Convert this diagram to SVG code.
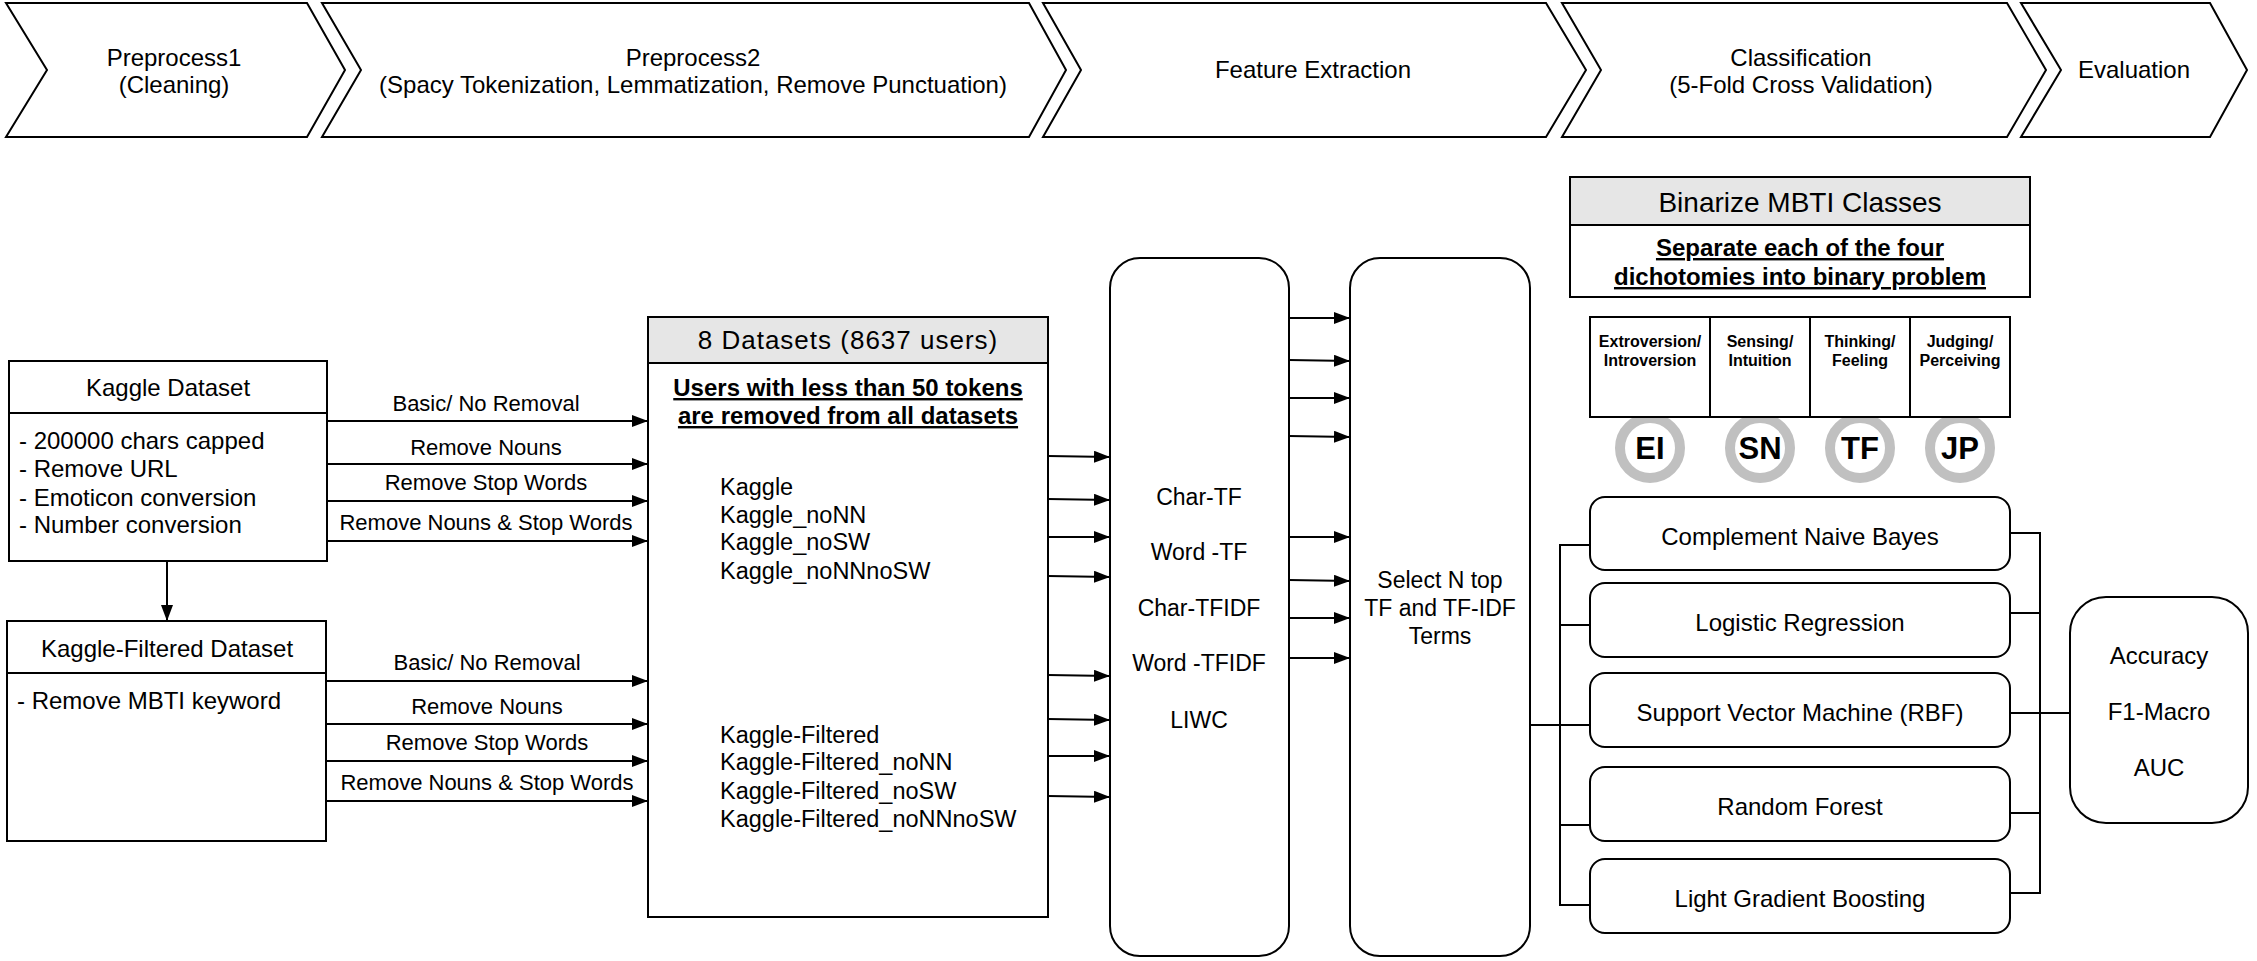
<svg xmlns="http://www.w3.org/2000/svg" width="2257" height="961" viewBox="0 0 2257 961">
<defs>
<style>
text{font-family:"Liberation Sans",Arial,Helvetica,sans-serif;fill:#000}
.c{text-anchor:middle}
.t24{font-size:24px}
.t22{font-size:22px}
.t23{font-size:23px}
.lst{font-size:23.5px}
.b24{font-size:24px;font-weight:bold;text-decoration:underline}
.sm{font-size:16px;font-weight:bold}
.big{font-size:31px;font-weight:bold}
.box{fill:#fff;stroke:#000;stroke-width:2}
.hdr{fill:#e6e6e6;stroke:#000;stroke-width:2}
.ln{fill:none;stroke:#000;stroke-width:2}
.ring{fill:#fff;stroke:#c0c0c0;stroke-width:10}
</style>
<marker id="ah" markerUnits="userSpaceOnUse" markerWidth="16" markerHeight="12" refX="16" refY="6" orient="auto">
<path d="M0,0 L16,6 L0,12 z" fill="#000"/>
</marker>
</defs>
<rect width="2257" height="961" fill="#fff"/>

<g id="stage-preprocess1">
<polygon class="box" points="6,3 307,3 345,70 307,137 6,137 47,70"/>
<text class="c t24" x="174" y="66">Preprocess1</text>
<text class="c t24" x="174" y="93">(Cleaning)</text>
</g>
<g id="stage-preprocess2">
<polygon class="box" points="322,3 1029,3 1066,70 1029,137 322,137 361,70"/>
<text class="c t24" x="693" y="66">Preprocess2</text>
<text class="c t24" x="693" y="93">(Spacy Tokenization, Lemmatization, Remove Punctuation)</text>
</g>
<g id="stage-feature">
<polygon class="box" points="1043,3 1546,3 1586,70 1546,137 1043,137 1081,70"/>
<text class="c t24" x="1313" y="78">Feature Extraction</text>
</g>
<g id="stage-classification">
<polygon class="box" points="1562,3 2007,3 2046,70 2007,137 1562,137 1601,70"/>
<text class="c t24" x="1801" y="66">Classification</text>
<text class="c t24" x="1801" y="93">(5-Fold Cross Validation)</text>
</g>
<g id="stage-evaluation">
<polygon class="box" points="2021,3 2210,3 2247,70 2210,137 2021,137 2061,70"/>
<text class="c t24" x="2134" y="78">Evaluation</text>
</g>

<g id="kaggle-dataset">
<rect class="box" x="9" y="361" width="318" height="200"/>
<line class="ln" x1="9" y1="413" x2="327" y2="413"/>
<text class="c t24" x="168" y="396">Kaggle Dataset</text>
<text class="t24" x="19" y="449">- 200000 chars capped</text>
<text class="t24" x="19" y="477">- Remove URL</text>
<text class="t24" x="19" y="506">- Emoticon conversion</text>
<text class="t24" x="19" y="533">- Number conversion</text>
</g>

<g id="kaggle-filtered">
<rect class="box" x="7" y="621" width="319" height="220"/>
<line class="ln" x1="7" y1="673" x2="326" y2="673"/>
<text class="c t24" x="167" y="657">Kaggle-Filtered Dataset</text>
<text class="t24" x="17" y="709">- Remove MBTI keyword</text>
</g>

<g id="datasets">
<rect class="box" x="648" y="317" width="400" height="600"/>
<rect class="hdr" x="648" y="317" width="400" height="46"/>
<text class="c" x="848" y="349" style="font-size:26px;letter-spacing:1px">8 Datasets (8637 users)</text>
<text class="c b24" x="848" y="396">Users with less than 50 tokens</text>
<text class="c b24" x="848" y="424">are removed from all datasets</text>
<text class="lst" x="720" y="495">Kaggle</text>
<text class="lst" x="720" y="523">Kaggle_noNN</text>
<text class="lst" x="720" y="550">Kaggle_noSW</text>
<text class="lst" x="720" y="579">Kaggle_noNNnoSW</text>
<text class="lst" x="720" y="743">Kaggle-Filtered</text>
<text class="lst" x="720" y="770">Kaggle-Filtered_noNN</text>
<text class="lst" x="720" y="799">Kaggle-Filtered_noSW</text>
<text class="lst" x="720" y="827">Kaggle-Filtered_noNNnoSW</text>
</g>

<g id="features">
<rect class="box" x="1110" y="258" width="179" height="698" rx="30"/>
<text class="c t23" x="1199" y="505">Char-TF</text>
<text class="c t23" x="1199" y="560">Word -TF</text>
<text class="c t23" x="1199" y="616">Char-TFIDF</text>
<text class="c t23" x="1199" y="671">Word -TFIDF</text>
<text class="c t23" x="1199" y="728">LIWC</text>
</g>

<g id="select">
<rect class="box" x="1350" y="258" width="180" height="698" rx="30"/>
<text class="c t23" x="1440" y="588">Select N top</text>
<text class="c t23" x="1440" y="616">TF and TF-IDF</text>
<text class="c t23" x="1440" y="644">Terms</text>
</g>

<g id="binarize">
<rect class="box" x="1570" y="177" width="460" height="120"/>
<rect class="hdr" x="1570" y="177" width="460" height="48"/>
<text class="c" x="1800" y="212" style="font-size:28px">Binarize MBTI Classes</text>
<text class="c b24" x="1800" y="256">Separate each of the four</text>
<text class="c b24" x="1800" y="285">dichotomies into binary problem</text>
</g>

<g id="dichotomy-circles">
<circle class="ring" cx="1650" cy="448" r="30"/>
<circle class="ring" cx="1760" cy="448" r="30"/>
<circle class="ring" cx="1860" cy="448" r="30"/>
<circle class="ring" cx="1960" cy="448" r="30"/>
<text class="c big" x="1650" y="459">EI</text>
<text class="c big" x="1760" y="459">SN</text>
<text class="c big" x="1860" y="459">TF</text>
<text class="c big" x="1960" y="459">JP</text>
</g>

<g id="dichotomy-table">
<rect class="box" x="1590" y="317" width="420" height="100"/>
<line class="ln" x1="1710" y1="317" x2="1710" y2="417"/>
<line class="ln" x1="1810" y1="317" x2="1810" y2="417"/>
<line class="ln" x1="1910" y1="317" x2="1910" y2="417"/>
<text class="c sm" x="1650" y="347">Extroversion/</text>
<text class="c sm" x="1650" y="366">Introversion</text>
<text class="c sm" x="1760" y="347">Sensing/</text>
<text class="c sm" x="1760" y="366">Intuition</text>
<text class="c sm" x="1860" y="347">Thinking/</text>
<text class="c sm" x="1860" y="366">Feeling</text>
<text class="c sm" x="1960" y="347">Judging/</text>
<text class="c sm" x="1960" y="366">Perceiving</text>
</g>

<g id="clf-cnb">
<rect class="box" x="1590" y="497" width="420" height="73" rx="15"/>
<text class="c t24" x="1800" y="545">Complement Naive Bayes</text>
</g>
<g id="clf-lr">
<rect class="box" x="1590" y="583" width="420" height="74" rx="15"/>
<text class="c t24" x="1800" y="631">Logistic Regression</text>
</g>
<g id="clf-svm">
<rect class="box" x="1590" y="673" width="420" height="74" rx="15"/>
<text class="c t24" x="1800" y="721">Support Vector Machine (RBF)</text>
</g>
<g id="clf-rf">
<rect class="box" x="1590" y="767" width="420" height="74" rx="15"/>
<text class="c t24" x="1800" y="815">Random Forest</text>
</g>
<g id="clf-lgb">
<rect class="box" x="1590" y="859" width="420" height="74" rx="15"/>
<text class="c t24" x="1800" y="907">Light Gradient Boosting</text>
</g>

<g id="evaluation">
<rect class="box" x="2070" y="597" width="178" height="226" rx="36"/>
<text class="c t24" x="2159" y="664">Accuracy</text>
<text class="c t24" x="2159" y="720">F1-Macro</text>
<text class="c t24" x="2159" y="776">AUC</text>
</g>

<g id="connectors">
<line class="ln" x1="167" y1="561" x2="167" y2="621" marker-end="url(#ah)"/>

<line class="ln" x1="327" y1="421" x2="648" y2="421" marker-end="url(#ah)"/>
<line class="ln" x1="327" y1="464" x2="648" y2="464" marker-end="url(#ah)"/>
<line class="ln" x1="327" y1="501" x2="648" y2="501" marker-end="url(#ah)"/>
<line class="ln" x1="327" y1="541" x2="648" y2="541" marker-end="url(#ah)"/>
<text class="c t22" x="486" y="411">Basic/ No Removal</text>
<text class="c t22" x="486" y="455">Remove Nouns</text>
<text class="c t22" x="486" y="490">Remove Stop Words</text>
<text class="c t22" x="486" y="530">Remove Nouns &amp; Stop Words</text>

<line class="ln" x1="326" y1="681" x2="648" y2="681" marker-end="url(#ah)"/>
<line class="ln" x1="326" y1="724" x2="648" y2="724" marker-end="url(#ah)"/>
<line class="ln" x1="326" y1="761" x2="648" y2="761" marker-end="url(#ah)"/>
<line class="ln" x1="326" y1="801" x2="648" y2="801" marker-end="url(#ah)"/>
<text class="c t22" x="487" y="670">Basic/ No Removal</text>
<text class="c t22" x="487" y="714">Remove Nouns</text>
<text class="c t22" x="487" y="750">Remove Stop Words</text>
<text class="c t22" x="487" y="790">Remove Nouns &amp; Stop Words</text>

<line class="ln" x1="1048" y1="456" x2="1110" y2="457" marker-end="url(#ah)"/>
<line class="ln" x1="1048" y1="499" x2="1110" y2="500" marker-end="url(#ah)"/>
<line class="ln" x1="1048" y1="537" x2="1110" y2="537" marker-end="url(#ah)"/>
<line class="ln" x1="1048" y1="576" x2="1110" y2="577" marker-end="url(#ah)"/>
<line class="ln" x1="1048" y1="675" x2="1110" y2="676" marker-end="url(#ah)"/>
<line class="ln" x1="1048" y1="719" x2="1110" y2="720" marker-end="url(#ah)"/>
<line class="ln" x1="1048" y1="756" x2="1110" y2="756" marker-end="url(#ah)"/>
<line class="ln" x1="1048" y1="796" x2="1110" y2="797" marker-end="url(#ah)"/>

<line class="ln" x1="1289" y1="318" x2="1350" y2="318" marker-end="url(#ah)"/>
<line class="ln" x1="1289" y1="360" x2="1350" y2="361" marker-end="url(#ah)"/>
<line class="ln" x1="1289" y1="398" x2="1350" y2="398" marker-end="url(#ah)"/>
<line class="ln" x1="1289" y1="436" x2="1350" y2="437" marker-end="url(#ah)"/>
<line class="ln" x1="1289" y1="537" x2="1350" y2="537" marker-end="url(#ah)"/>
<line class="ln" x1="1289" y1="580" x2="1350" y2="581" marker-end="url(#ah)"/>
<line class="ln" x1="1289" y1="618" x2="1350" y2="618" marker-end="url(#ah)"/>
<line class="ln" x1="1289" y1="658" x2="1350" y2="658" marker-end="url(#ah)"/>

<polyline class="ln" points="1530,725 1560,725"/>
<polyline class="ln" points="1590,545 1560,545 1560,905 1590,905"/>
<line class="ln" x1="1560" y1="625" x2="1590" y2="625"/>
<line class="ln" x1="1560" y1="725" x2="1590" y2="725"/>
<line class="ln" x1="1560" y1="825" x2="1590" y2="825"/>

<polyline class="ln" points="2010,533 2040,533 2040,893 2010,893"/>
<line class="ln" x1="2010" y1="613" x2="2040" y2="613"/>
<line class="ln" x1="2010" y1="713" x2="2070" y2="713"/>
<line class="ln" x1="2010" y1="813" x2="2040" y2="813"/>
</g>
</svg>
